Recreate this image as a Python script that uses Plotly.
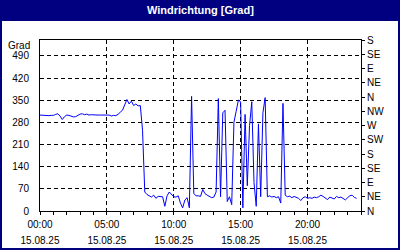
import pandas as pd
import plotly.graph_objects as go

title = "Windrichtung [Grad]"
start = "2025-08-15 00:00"
end = "2025-08-16 00:00"
left_ticks = [0, 70, 140, 210, 280, 350, 420, 490]
right_tickvals = [0, 45, 90, 135, 180, 225, 270, 315, 360, 405, 450, 495, 540]
right_ticktext = ["N", "NE", "E", "SE", "S", "SW", "W", "NW", "N", "NE", "E", "SE", "S"]
y_unit = "Grad"

# wind direction, 10-minute samples from 00:00
direction = [
    303, 302, 302, 302, 301, 302, 302, 305, 307, 300,
    289, 298, 303, 302, 299, 297, 298, 303, 306, 307,
    304, 306, 303, 304, 303, 303, 303, 303, 303, 303,
    302, 303, 300, 302, 301, 305, 312, 318, 335, 352,
    338, 347, 333, 338, 332, 333, 255, 60, 52, 48,
    44, 50, 40, 46, 45, 45, 15, 48, 60, 52,
    45, 44, 48, 25, 10, 35, 42, 10, 362, 55,
    48, 48, 46, 68, 55, 50, 46, 42, 44, 60,
    355, 45, 310, 318, 30, 45, 20, 280, 315, 350,
    345, 10, 305, 80, 270, 345, 90, 15, 275, 45,
    310, 358, 45, 48, 44, 46, 42, 45, 25, 340,
    50, 45, 47, 42, 46, 44, 40, 33, 42, 45,
    40, 42, 40, 44, 42, 45, 50, 46, 42, 36,
    44, 42, 38, 46, 42, 44, 40, 35, 42, 48,
    50, 43, 40,
]
times = pd.date_range(start, periods=len(direction), freq="10min")

L, R, T, B = 40, 39, 40, 39
W, H = 400, 250
PW, PH = W - L - R, H - T - B
def xp(px): return (px - L) / PW
def yp(py): return (H - B - py) / PH

navy = "#000080"
font = dict(family="Liberation Sans", size=10, color="black")
dash = "4px,3px"

fig = go.Figure()
fig.add_trace(go.Scatter(x=times, y=direction, mode="lines",
                         line=dict(color="#0000FF", width=1),
                         showlegend=False, hoverinfo="skip"))
fig.add_trace(go.Scatter(x=[pd.Timestamp(start)], y=[0], xaxis="x2", yaxis="y2",
                         mode="markers", marker=dict(opacity=0),
                         showlegend=False, hoverinfo="skip"))

fig.update_layout(
    width=W, height=H,
    margin=dict(l=L, r=R, t=T, b=B, pad=0, autoexpand=False),
    paper_bgcolor=navy, plot_bgcolor="white",
    font=font,
    xaxis=dict(type="date", range=[start, end], tick0=start, dtick=5 * 3600000,
               tickformat="%H:%M", showgrid=True, gridcolor="black", gridwidth=1,
               griddash=dash, showline=True, linecolor="black", linewidth=1, mirror=True,
               ticks="outside", ticklen=3, tickcolor="black", ticklabelstandoff=1,
               minor=dict(dtick=3600000, ticks="outside", ticklen=3, tickcolor="black", showgrid=False),
               zeroline=False, fixedrange=True, automargin=False),
    xaxis2=dict(type="date", range=[start, end], tick0=start, dtick=5 * 3600000,
                tickformat="%d.%m.%y", overlaying="x", anchor="y", side="bottom",
                showgrid=False, showline=False, ticks="", ticklabelstandoff=22,
                zeroline=False, automargin=False),
    yaxis=dict(range=[0, 540], tickmode="array", tickvals=left_ticks,
               showgrid=True, gridcolor="black", gridwidth=1, griddash=dash,
               showline=True, linecolor="black", linewidth=1, mirror=True,
               ticks="", ticklabelstandoff=8, zeroline=False, automargin=False),
    yaxis2=dict(range=[0, 540], tickmode="array", tickvals=right_tickvals,
                ticktext=right_ticktext, overlaying="y", anchor="x", side="right",
                showgrid=False, showline=True, linecolor="black", linewidth=1,
                ticks="outside", ticklen=3, tickcolor="black", zeroline=False,
                automargin=False),
    shapes=[
        dict(type="rect", xref="paper", yref="paper", layer="below",
             x0=xp(2), x1=xp(398), y0=yp(21), y1=yp(248),
             fillcolor="white", line=dict(width=0)),
    ],
    annotations=[
        dict(text="<b>" + title + "</b>", xref="paper", yref="paper",
             x=xp(200), y=yp(10), xanchor="center", yanchor="middle",
             showarrow=False, font=dict(family="Liberation Sans", size=11, color="white")),
        dict(text=y_unit, xref="paper", yref="paper", x=xp(32), y=yp(45),
             xanchor="right", yanchor="middle", showarrow=False, font=font),
    ],
)

fig.write_html("out.html")
